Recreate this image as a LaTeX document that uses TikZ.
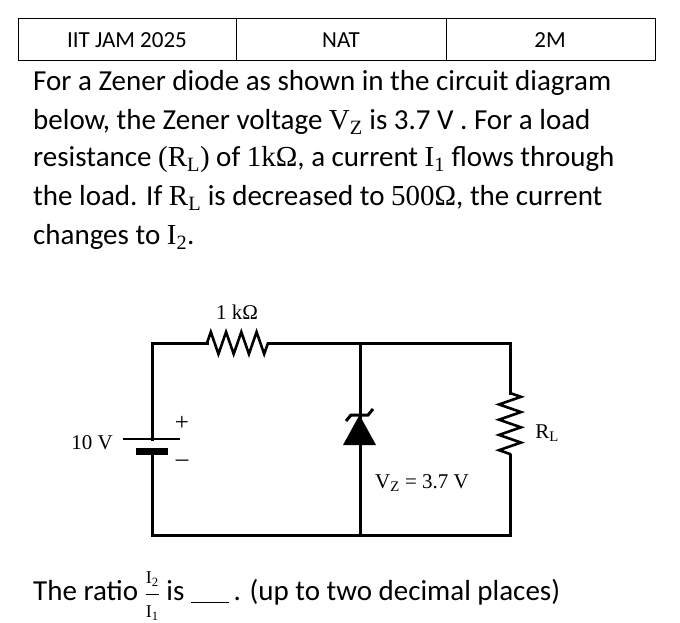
\documentclass[tikz,border=0pt]{standalone}
\usepackage{fontspec}
\setmainfont{Carlito}
\newfontfamily\tnr{Liberation Serif}
\usetikzlibrary{decorations.pathmorphing}
\newcommand{\fpart}[2]{\hbox{\tnr\fontsize{18}{18}\selectfont #1\textsubscript{#2}}}
\newcommand{\myratio}{$\displaystyle\frac{\fpart{I}{2}}{\fpart{I}{1}}$}
\begin{document}
\begin{tikzpicture}[x=1pt,y=-1pt,
  wire/.style={line width=3pt,line cap=rect},
  zz/.style={line width=2.6pt,decorate,decoration={zigzag,segment length=15.25pt,amplitude=11pt}},
  para/.style={anchor=west,font=\fontsize{29}{32}\selectfont,inner sep=0pt},
  cell/.style={font=\fontsize{23}{26}\selectfont,inner sep=0pt},
  ctext/.style={font=\tnr\fontsize{21}{24}\selectfont,inner sep=0pt}]
\useasboundingbox (0,0) rectangle (680,623);
\fill[white] (0,0) rectangle (680,623);
% table
\draw[line width=0.8pt] (18,18) rectangle (655,60);
\draw[line width=0.8pt] (236,18) -- (236,60) (446,18) -- (446,60);
\node[cell] (c1) at (127,40) {IIT JAM 2025};
\node[cell] (c2) at (341,40) {NAT};
\node[cell] (c3) at (550,40) {2M};
% paragraph
\node[para] (l1) at (33,83) {For a Zener diode as shown in the circuit diagram};
\node[para] (l2) at (33,122) {below, the Zener voltage {\tnr V\textsubscript{Z}} is 3.7 V . For a load};
\node[para] (l3) at (33,160) {resistance {\tnr (R\textsubscript{L})} of {\tnr 1kΩ}, a current {\tnr I\textsubscript{1}} flows through};
\node[para] (l4) at (33,198) {the load. If {\tnr R\textsubscript{L}} is decreased to {\tnr 500Ω}, the current};
\node[para] (l5) at (33,237) {changes to {\tnr I\textsubscript{2}}.};
% circuit
\coordinate (tl) at (152,343); \coordinate (bl) at (152,535);
\coordinate (tm) at (360,343); \coordinate (bm) at (360,535);
\coordinate (tr) at (510,343); \coordinate (br) at (510,535);
\coordinate (r1a) at (207,343); \coordinate (r1b) at (268,343);
\coordinate (rla) at (510,393); \coordinate (rlb) at (510,455);
\coordinate (bp) at (152,439); \coordinate (bn) at (152,451);
\draw[wire] (bp) -- (tl) -- (r1a);
\draw[zz] (r1a) -- (r1b);
\draw[wire] (r1b) -- (tr) -- (rla);
\draw[zz] (rla) -- (rlb);
\draw[wire] (rlb) -- (br) -- (bl) -- (bn);
\draw[wire] (tm) -- (bm);
\draw[line width=2.5pt] (123,439) -- (180,439);
\draw[line width=7pt] (136,451) -- (168,451);
% zener
\fill (343,445) -- (376,445) -- (359.5,415) -- cycle;
\draw[line width=3pt] (346,421) -- (351,415) -- (368,415) -- (373,409);
\node[ctext,font=\tnr\fontsize{25}{26}\selectfont] (plus) at (182,423) {+};
\node[ctext,font=\tnr\fontsize{25}{26}\selectfont] (minus) at (182,463) {–};
\node[ctext] (v10) at (92,443) {10 V};
\node[ctext] (r1) at (237,312) {1 kΩ};
\node[ctext] (vz) at (422,483) {V\textsubscript{Z} = 3.7 V};
\node[ctext] (rl) at (547,433) {R\textsubscript{L}};
% question
\node[para] (q) at (33,596) {The ratio \myratio{} is \underline{\hspace{1.3em}}\,. (up to two decimal places)};
\end{tikzpicture}
\end{document}
